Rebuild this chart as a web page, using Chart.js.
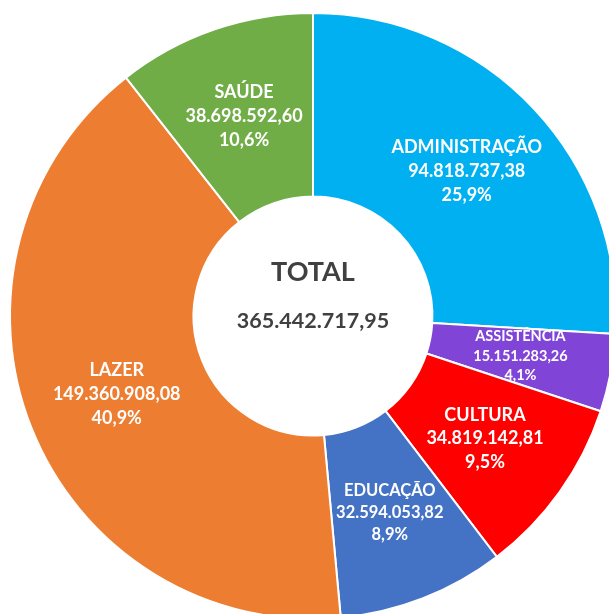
<!DOCTYPE html>
<html lang="pt">
<head>
    <meta charset="UTF-8">
    <title>Total por área</title>
    <style>
        * { margin: 0; padding: 0; box-sizing: border-box; }
        body { background: #fff; width: 609px; height: 614px; overflow: hidden; position: relative; }
        #chart { position: absolute; left: 0; top: 0; }
    </style>
</head>
<body>
    <canvas id="chart" width="626" height="632"></canvas>

    <script src="https://cdn.jsdelivr.net/npm/chart.js"></script>
    <script>
        // categorias e valores (R$)
        const categories = ['ADMINISTRAÇÃO', 'ASSISTÊNCIA', 'CULTURA', 'EDUCAÇÃO', 'LAZER', 'SAÚDE'];
        const values = [94818737.38, 15151283.26, 34819142.81, 32594053.82, 149360908.08, 38698592.60];
        const valueLabels = ['94.818.737,38', '15.151.283,26', '34.819.142,81', '32.594.053,82', '149.360.908,08', '38.698.592,60'];
        const percentLabels = ['25,9%', '4,1%', '9,5%', '8,9%', '40,9%', '10,6%'];
        const totalLabel = '365.442.717,95';

        const colors = ['#00B0F0', '#8044D6', '#FF0000', '#4472C4', '#ED7D31', '#70AD47'];
        const labelSizes = [18, 14.5, 18, 16.5, 18, 18];

        // labels dentro das fatias + total no centro
        const sliceLabels = {
            id: 'sliceLabels',
            afterDatasetsDraw(chart) {
                const ctx = chart.ctx;
                const meta = chart.getDatasetMeta(0);
                ctx.save();
                ctx.textAlign = 'center';
                ctx.textBaseline = 'middle';
                ctx.fillStyle = '#ffffff';
                meta.data.forEach((arc, i) => {
                    const pos = arc.tooltipPosition();
                    const size = labelSizes[i];
                    const gap = size * 1.32;
                    ctx.font = 'bold ' + size + 'px Lato, "Open Sans", sans-serif';
                    ctx.fillText(categories[i], pos.x, pos.y - gap);
                    ctx.fillText(valueLabels[i], pos.x, pos.y);
                    ctx.fillText(percentLabels[i], pos.x, pos.y + gap);
                });

                const cx = (chart.chartArea.left + chart.chartArea.right) / 2;
                const cy = (chart.chartArea.top + chart.chartArea.bottom) / 2;
                ctx.fillStyle = '#404040';
                ctx.font = 'bold 27px Lato, "Open Sans", sans-serif';
                ctx.fillText('TOTAL', cx, cy - 44);
                ctx.font = 'bold 21.5px Lato, "Open Sans", sans-serif';
                ctx.fillText(totalLabel, cx, cy + 5);
                ctx.restore();
            }
        };

        new Chart(document.getElementById('chart'), {
            type: 'doughnut',
            data: {
                labels: categories,
                datasets: [{
                    data: values,
                    backgroundColor: colors,
                    borderColor: '#ffffff',
                    borderWidth: 2
                }]
            },
            options: {
                responsive: false,
                animation: false,
                radius: 303,
                cutout: 123,
                plugins: {
                    legend: { display: false },
                    tooltip: { enabled: false }
                }
            },
            plugins: [sliceLabels]
        });
    </script>
</body>
</html>
